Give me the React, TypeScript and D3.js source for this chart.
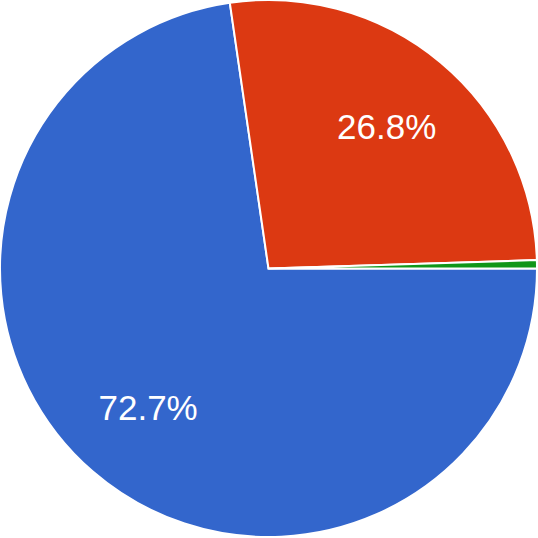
import React from "react";
import * as d3 from "d3";

const categories = ["A", "B", "C"];
const values = [72.7, 26.8, 0.5];
const colors = ["#3366cc", "#dc3912", "#109618"];
const labels = ["72.7%", "26.8%", ""];

const W = 538;
const H = 538;

export default function App() {
  const cx = 268.5;
  const cy = 268.5;
  const r = 268.5;
  const pie = d3
    .pie<number>()
    .sort(null)
    .value((d) => d)
    .startAngle(Math.PI / 2)
    .endAngle(Math.PI / 2 + 2 * Math.PI);
  const arcs = pie(values);
  const arc = d3.arc<d3.PieArcDatum<number>>().innerRadius(0).outerRadius(r);
  const labelArc = d3.arc<d3.PieArcDatum<number>>().innerRadius(184).outerRadius(184);
  return (
    <div style={{ position: "fixed", left: 0, top: 0 }}>
      <svg width={W} height={H} style={{ display: "block" }}>
        <rect width={W} height={H} fill="#fff" />
        <g transform={`translate(${cx},${cy})`}>
          {arcs.map((a, i) => (
            <path key={categories[i]} d={arc(a) || ""} fill={colors[i]} stroke="#fff" strokeWidth={2} />
          ))}
          {arcs.map((a, i) => {
            const [x, y] = labelArc.centroid(a);
            return labels[i] ? (
              <text
                key={"l" + categories[i]}
                x={x}
                y={y + 12}
                textAnchor="middle"
                fill="#fff"
                fontFamily="'Liberation Sans', Arial, sans-serif"
                fontSize={35}
              >
                {labels[i]}
              </text>
            ) : null;
          })}
        </g>
      </svg>
    </div>
  );
}
